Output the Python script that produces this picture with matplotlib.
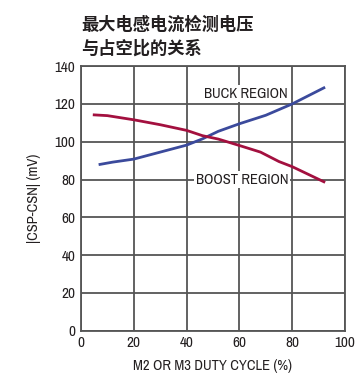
import matplotlib
matplotlib.use("Agg")
import matplotlib.pyplot as plt

# values
buck_x = [7.2, 12, 20, 30, 40, 46, 52, 60, 70, 80, 92]
buck_y = [88.0, 89.2, 90.8, 94.5, 98.2, 101.5, 105.5, 109.5, 114.0, 120.0, 128.5]
boost_x = [5, 10, 20, 30, 40, 46, 52, 60, 68, 75, 80, 92]
boost_y = [114.2, 113.8, 111.6, 109.0, 106.0, 103.2, 101.4, 98.0, 94.5, 89.5, 86.8, 78.8]

x_ticks = [0, 20, 40, 60, 80, 100]
y_ticks = [0, 20, 40, 60, 80, 100, 120, 140]
title = "最大电感电流检测电压\n与占空比的关系"
x_label = "M2 OR M3 DUTY CYCLE (%)"
y_label = "|CSP-CSN| (mV)"

txt = "#231f20"
grid_c = "#555555"
plt.rcParams["font.family"] = ["Archivo Narrow", "Liberation Sans Narrow", "DejaVu Sans"]

fig = plt.figure(figsize=(3.59, 3.80), dpi=100)
ax = fig.add_axes([0.2256, 0.1297, 0.7354, 0.6963])

ax.plot(buck_x, buck_y, color="#3b4a9c", lw=2.0, zorder=3)
ax.plot(boost_x, boost_y, color="#a3103f", lw=2.0, zorder=3)

ax.set_xlim(0, 100)
ax.set_ylim(0, 140)
ax.set_xticks(x_ticks)
ax.set_yticks(y_ticks)
ax.grid(True, color=grid_c, lw=1.3, zorder=1)
for s in ax.spines.values():
    s.set_color(grid_c)
    s.set_linewidth(1.3)
ax.tick_params(length=0, pad=4, labelsize=11, colors=txt)

ax.set_xlabel(x_label, fontsize=10.5, color=txt, labelpad=6)
ax.set_ylabel(y_label, fontsize=10.5, color=txt, labelpad=10)

ax.text(62.5, 125.5, "BUCK REGION", fontsize=10.5, color=txt, ha="center", va="center",
        bbox=dict(facecolor="white", edgecolor="none", pad=1), zorder=4)
ax.text(61, 80, "BOOST REGION", fontsize=10.5, color=txt, ha="center", va="center",
        bbox=dict(facecolor="white", edgecolor="none", pad=1), zorder=4)

fig.text(0.226, 0.958, title, fontsize=12.4, fontweight="heavy", color=txt,
         ha="left", va="top", linespacing=1.4,
         family=["Noto Sans CJK SC", "DejaVu Sans"])

fig.savefig("out.png", dpi=100)
